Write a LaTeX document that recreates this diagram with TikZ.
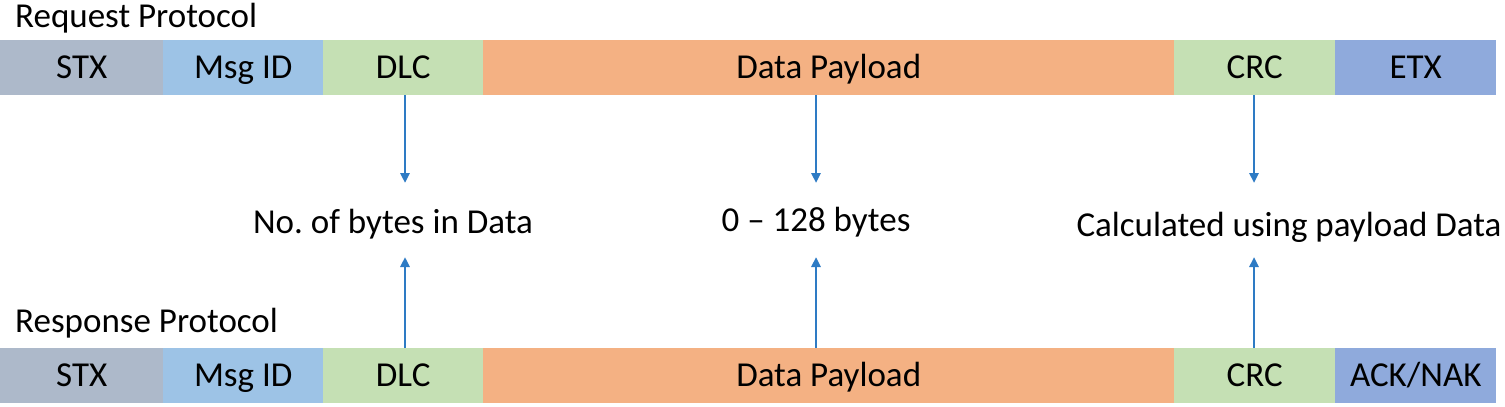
\documentclass[tikz,border=0pt]{standalone}
\usepackage{fontspec}
\setmainfont{Carlito}
\usetikzlibrary{arrows.meta}
\frenchspacing
\definecolor{cstx}{HTML}{ADB9CA}
\definecolor{cmsg}{HTML}{9DC3E6}
\definecolor{cdlc}{HTML}{C5E0B4}
\definecolor{cdata}{HTML}{F4B183}
\definecolor{cetx}{HTML}{8FAADC}
\definecolor{carrow}{HTML}{2E7BC4}
\newcommand{\bigfont}{\fontsize{35}{40}\selectfont}
\tikzset{
  capc/.style={text height=22.5pt, text depth=0pt},
  field/.style={draw=none, inner sep=0pt, minimum height=55pt, anchor=north west, font=\bigfont, capc},
  title/.style={anchor=west, inner sep=0pt, font=\bigfont, capc},
  lbl/.style={inner sep=0pt, font=\bigfont, capc},
  arr/.style={draw=carrow, line width=2.8pt, -{Triangle[length=10pt,width=9pt]}}
}
\begin{document}
\begin{tikzpicture}[x=1pt,y=-1pt]
\useasboundingbox (0,0) rectangle (1505,407);
% titles
\node[title] (req) at (15,16) {Request Protocol};
\node[title] (resp) at (15,321) {Response Protocol};
% top row
\node[field, fill=cstx, minimum width=163pt] (stx1) at (0,40) {STX};
\node[field, fill=cmsg, minimum width=160pt] (msg1) at (163,40) {Msg ID};
\node[field, fill=cdlc, minimum width=160pt] (dlc1) at (323,40) {DLC};
\node[field, fill=cdata, minimum width=691pt] (data1) at (483,40) {Data Payload};
\node[field, fill=cdlc, minimum width=161pt] (crc1) at (1174,40) {CRC};
\node[field, fill=cetx, minimum width=161pt] (etx1) at (1335,40) {ETX};
% bottom row
\node[field, fill=cstx, minimum width=163pt] (stx2) at (0,348) {STX};
\node[field, fill=cmsg, minimum width=160pt] (msg2) at (163,348) {Msg ID};
\node[field, fill=cdlc, minimum width=160pt] (dlc2) at (323,348) {DLC};
\node[field, fill=cdata, minimum width=691pt] (data2) at (483,348) {Data Payload};
\node[field, fill=cdlc, minimum width=161pt] (crc2) at (1174,348) {CRC};
\node[field, fill=cetx, minimum width=161pt] (etx2) at (1335,348) {ACK/NAK};
% labels
\node[lbl] (l1) at (393,222) {No. of bytes in Data};
\node[lbl] (l2) at (816,220) {0 – 128 bytes};
\node[lbl] (l3) at (1289,225) {Calculated using payload Data};
% arrow ends
\coordinate (d1) at (405,183);
\coordinate (d2) at (816,183);
\coordinate (d3) at (1254,183);
\coordinate (u1) at (405,257);
\coordinate (u2) at (816,257);
\coordinate (u3) at (1254,257);
\draw[arr] (d1 |- dlc1.south) -- (d1);
\draw[arr] (d2 |- data1.south) -- (d2);
\draw[arr] (d3 |- crc1.south) -- (d3);
\draw[arr] (u1 |- dlc2.north) -- (u1);
\draw[arr] (u2 |- data2.north) -- (u2);
\draw[arr] (u3 |- crc2.north) -- (u3);
\end{tikzpicture}
\end{document}
